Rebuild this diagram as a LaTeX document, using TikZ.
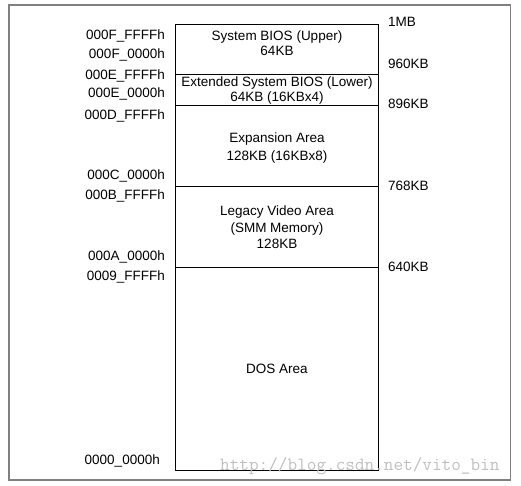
\documentclass[tikz,border=0pt]{standalone}
\usepackage{fontspec}
\setmainfont{Liberation Sans}
\begin{document}
\begin{tikzpicture}[x=1pt,y=-1pt,
  region/.style={draw=black,line width=0.9pt,rectangle,inner sep=0pt,minimum width=203pt},
  lbl/.style={font=\fontsize{13.5}{16.5}\selectfont,inner sep=0pt},
  addr/.style={lbl,anchor=east},
  size/.style={lbl,anchor=west},
  body/.style={lbl,align=center}]
\useasboundingbox (0,0) rectangle (521,485);
\draw[draw=gray,line width=1.4pt] (9,5) rectangle (510.5,480);
% regions
\node[region,minimum height=50pt] (bios) at (276.5,49) {};
\node[region,minimum height=31pt] (ext) at (276.5,89.5) {};
\node[region,minimum height=81pt] (exp) at (276.5,145.5) {};
\node[region,minimum height=81pt] (vid) at (276.5,226.5) {};
\node[region,minimum height=203pt] (dos) at (276.5,368.5) {};
% region texts
\node[body] (tbios) at (277,43) {System BIOS (Upper)\\[-2pt]64KB};
\node[body] (text) at (277,91) {Extended System BIOS (Lower)\\[-1.5pt]64KB (16KBx4)};
\node[body] (texp) at (277,148) {Expansion Area\\[1pt]128KB (16KBx8)};
\node[body] (tvid) at (277,227.5) {Legacy Video Area\\(SMM Memory)\\128KB};
\node[body] (tdos) at (277,368.5) {DOS Area};
% addresses
\node[addr] (a1) at (165,35.7) {000F\_FFFFh};
\node[addr] (a2) at (165,54.5) {000F\_0000h};
\node[addr] (a3) at (165,75.7) {000E\_FFFFh};
\node[addr] (a4) at (165,94.3) {000E\_0000h};
\node[addr] (a5) at (165,115.7) {000D\_FFFFh};
\node[addr] (a6) at (165,176) {000C\_0000h};
\node[addr] (a7) at (165,196) {000B\_FFFFh};
\node[addr] (a8) at (165,256.7) {000A\_0000h};
\node[addr] (a9) at (165,276.5) {0009\_FFFFh};
\node[addr] (a10) at (160,460.7) {0000\_0000h};
% sizes
\node[size] (s1) at (388,22) {1MB};
\node[size] (s2) at (388,64) {960KB};
\node[size] (s3) at (388,104) {896KB};
\node[size] (s4) at (388,186) {768KB};
\node[size] (s5) at (388,267) {640KB};
% watermark
\node[anchor=base west,inner sep=0pt,text=black!25,font=\fontsize{18.7}{20}\ttfamily] (wm) at (220,470) {http://blog.csdn.net/vito\_bin};
\end{tikzpicture}
\end{document}
